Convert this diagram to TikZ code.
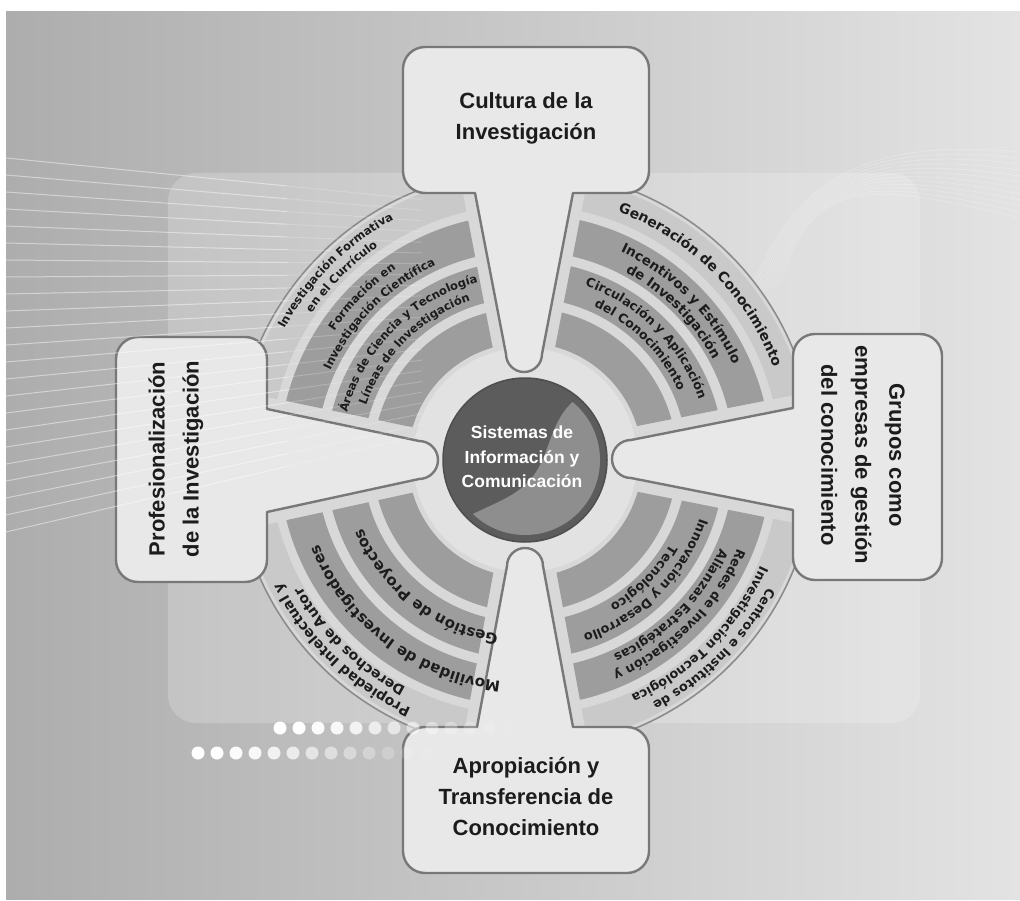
\documentclass[tikz,border=0pt]{standalone}
\usepackage{fontspec}
\setmainfont{Liberation Sans}
\newfontfamily\bandfont{DejaVu Sans}
\usetikzlibrary{decorations.text}
\definecolor{bgL}{HTML}{ADADAD}
\definecolor{bgR}{HTML}{E3E3E3}
\definecolor{fanc}{HTML}{D8D8D8}
\definecolor{innerc}{HTML}{E2E2E2}
\definecolor{bandA}{HTML}{9D9D9D}
\definecolor{bandB}{HTML}{C9C9C9}
\definecolor{boxfill}{HTML}{E8E8E8}
\definecolor{edgec}{HTML}{787878}
\definecolor{txtc}{HTML}{1C1C1C}
\definecolor{discA}{HTML}{5C5C5C}
\definecolor{discB}{HTML}{8E8E8E}
\newcommand\quadbands{%
  \fill[bandA,even odd rule] (525,460) circle[radius=152] circle[radius=117];
  \fill[bandA,even odd rule] (525,460) circle[radius=199] circle[radius=162];
  \fill[bandA,even odd rule] (525,460) circle[radius=246] circle[radius=209];
  \fill[bandB,even odd rule] (525,460) circle[radius=286] circle[radius=255];}
\newcommand\bandtext[4]{%
  \path[decorate,decoration={text along path,text align=center,
    text={|\bandfont\bfseries\fontsize{#3}{#3}\selectfont\color{txtc}|#4}}]
    (525,460) ++({#2-60}:#1) arc[start angle={#2-60},end angle={#2+60},radius=#1];}
\begin{document}
\begin{tikzpicture}[x=1pt,y=-1pt,
  boxsty/.style={fill=boxfill,draw=edgec,line width=2.4pt,line join=round},
  boxtext/.style={font=\bfseries\fontsize{22}{31}\selectfont,text=txtc,align=center},
  sidetext/.style={font=\bfseries\fontsize{22}{34}\selectfont,text=txtc,align=center}]
\useasboundingbox (0,0) rectangle (1020,901);
\fill[white] (0,0) rectangle (1020,901);
\shade[left color=bgL,right color=bgR] (6,12) rectangle (1020,899);
% swoosh at upper right
\foreach \k in {0,...,11}{
  \draw[white,opacity=0.25,line width=0.7] ({748+3*\k},{300-1.5*\k}) .. controls ({790+2*\k},175) and (870,{138+4*\k}) .. (1020,{152+6*\k});}
% translucent panel
\fill[white,fill opacity=0.2,rounded corners=28] (168,173) rectangle (920,723);
% fan region
\draw[fill=fanc,draw=edgec!85,line width=1.6pt] (525,460) circle[radius=290];
\fill[innerc] (525,460) circle[radius=112];
% bands per quadrant
\begin{scope}\clip (445,100) -- (512,448) -- (200,383) -- (200,100) -- cycle; \quadbands \end{scope}
\begin{scope}\clip (603,100) -- (536,446) -- (850,384) -- (850,100) -- cycle; \quadbands \end{scope}
\begin{scope}\clip (850,534) -- (538,472) -- (602,820) -- (850,820) -- cycle; \quadbands \end{scope}
\begin{scope}\clip (200,539) -- (512,471) -- (448,820) -- (200,820) -- cycle; \quadbands \end{scope}
% boxes with stems
\draw[boxsty] (475,193) -- (506,354) arc[start angle=180,end angle=0,radius=18] -- (573,193)
  -- (627,193) arc[start angle=90,end angle=0,radius=22] -- (649,69) arc[start angle=0,end angle=-90,radius=22]
  -- (425,47) arc[start angle=270,end angle=180,radius=22] -- (403,171) arc[start angle=180,end angle=90,radius=22] -- cycle;
\draw[boxsty] (573,727) -- (543,566) arc[start angle=0,end angle=-180,radius=18] -- (477,727)
  -- (425,727) arc[start angle=270,end angle=180,radius=22] -- (403,851) arc[start angle=180,end angle=90,radius=22]
  -- (627,873) arc[start angle=90,end angle=0,radius=22] -- (649,749) arc[start angle=0,end angle=-90,radius=22] -- cycle;
\draw[boxsty] (267,409) -- (419,441) arc[start angle=-90,end angle=90,radius=19] -- (267,512)
  -- (267,560) arc[start angle=0,end angle=90,radius=22] -- (138,582) arc[start angle=90,end angle=180,radius=22]
  -- (116,359) arc[start angle=180,end angle=270,radius=22] -- (245,337) arc[start angle=270,end angle=360,radius=22] -- cycle;
\draw[boxsty] (793,510) -- (631,478) arc[start angle=90,end angle=270,radius=19] -- (793,408)
  -- (793,356) arc[start angle=180,end angle=270,radius=22] -- (920,334) arc[start angle=270,end angle=360,radius=22]
  -- (942,558) arc[start angle=0,end angle=90,radius=22] -- (815,580) arc[start angle=90,end angle=180,radius=22] -- cycle;
% central disc
\node[circle,fill=discA,draw=discA!85!black,line width=1.5pt,minimum size=164,inner sep=0] (sys) at (525,460) {};
\begin{scope}
  \clip (525,460) circle[radius=75];
  \fill[discB] (580,396) .. controls (548,418) and (552,455) .. (530,480) .. controls (512,500) and (485,506) .. (460,521) -- (640,600) -- (640,380) -- cycle;
\end{scope}
% white lines at left
\foreach \i in {0,...,22}{
  \pgfmathsetmacro\ya{158+17*\i}
  \pgfmathsetmacro\yb{\ya+0.25*(270-\ya)}
  \pgfmathsetmacro\yc{\ya+0.37*(270-\ya)}
  \draw[white,opacity=0.45,line width=1] (6,\ya) -- (287,\yb);
  \draw[white,opacity=0.2,line width=1] (287,\yb) -- (422,\yc);}
% band texts: upper left
\bandtext{274}{225}{11.5}{Investigación Formativa}
\bandtext{259}{225}{11.5}{en el Currículo}
\bandtext{230}{225}{11.5}{Formación en}
\bandtext{214}{225}{11.5}{Investigación Científica}
\bandtext{184}{225}{11.5}{Áreas de Ciencia y Tecnología}
\bandtext{168}{225}{11.5}{Líneas de Investigación}
% upper right
\bandtext{265}{315}{14}{Generación de Conocimiento}
\bandtext{229}{315}{13.5}{Incentivos y Estímulo}
\bandtext{213}{315}{13.5}{de Investigación}
\bandtext{184}{315}{12.5}{Circulación y Aplicación}
\bandtext{168}{315}{12.5}{del Conocimiento}
% lower right
\bandtext{274}{45}{12.8}{Centros e Institutos de}
\bandtext{258}{45}{12.8}{Investigación Tecnológica}
\bandtext{230}{45}{12.8}{Redes de Investigación y}
\bandtext{214}{45}{12.8}{Alianzas Estratégicas}
\bandtext{184}{45}{12.8}{Innovación y Desarrollo}
\bandtext{168}{45}{12.8}{Tecnológico}
% lower left
\bandtext{273}{134}{14}{Propiedad Intelectual y}
\bandtext{257}{134}{14}{Derechos de Autor}
\bandtext{223}{127}{15}{Movilidad de Investigadores}
\bandtext{176}{128}{15}{Gestión de Proyectos}
% box texts
\node[boxtext] (cultura) at (526,118) {Cultura de la\\Investigación};
\node[boxtext] (apropia) at (526,797) {Apropiación y\\Transferencia de\\Conocimiento};
\node[sidetext,rotate=90] (profes) at (176,459) {Profesionalización\\de la Investigación};
\node[sidetext,rotate=-90] (grupos) at (863,455) {Grupos como\\empresas de gestión\\del conocimiento};
\node[font=\bfseries\fontsize{17.5}{24.5}\selectfont,text=white,align=center] (systxt) at (522,457) {Sistemas de\\Información y\\Comunicación};
% dots
\foreach \i/\o in {0/1,1/1,2/0.95,3/0.9,4/0.8,5/0.7,6/0.6,7/0.5,8/0.4,9/0.3,10/0.22,11/0.15,12/0.08}{
  \fill[white,opacity=\o] ({280+19*\i},728) circle[radius=6.5];
  \fill[white,opacity=\o] ({198+19*\i},753) circle[radius=6.5];}
\end{tikzpicture}
\end{document}
